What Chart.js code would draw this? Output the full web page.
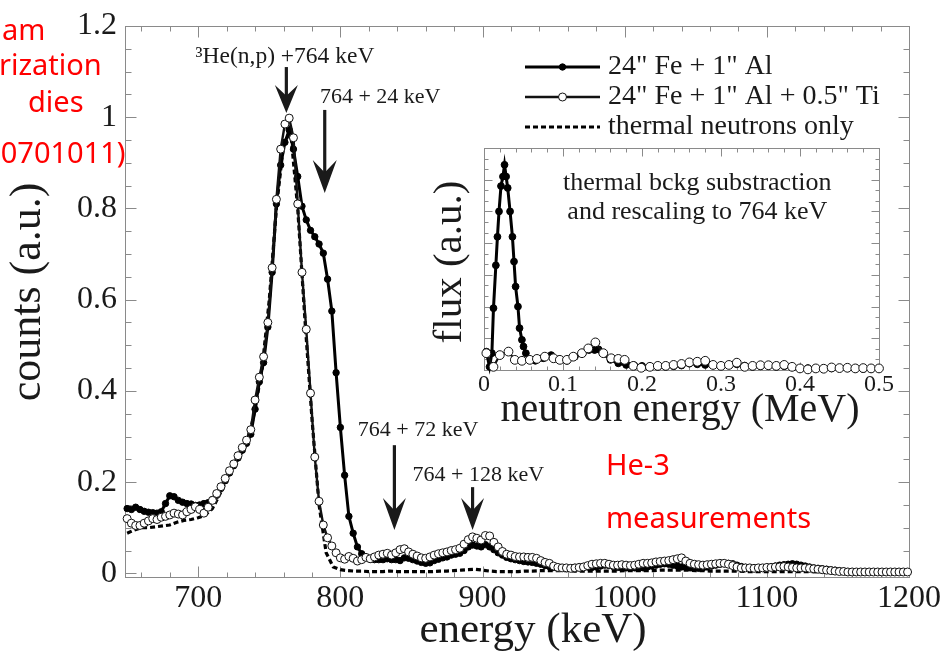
<!DOCTYPE html>
<html><head><meta charset="utf-8">
<script src="https://cdn.jsdelivr.net/npm/chart.js@4.4.0/dist/chart.umd.min.js"></script>
<style>
html,body{margin:0;padding:0;background:#fff;overflow:hidden;}
#wrap{position:relative;width:947px;height:652px;overflow:hidden;}
#main{position:absolute;left:0;top:0;}
#inset{position:absolute;left:420px;top:135px;}
.red{position:absolute;color:#ff0000;font-family:'Noto Sans',sans-serif;font-size:29px;line-height:1;white-space:nowrap;}
</style></head>
<body><div id="wrap">
<canvas id="main" width="947" height="652"></canvas>
<canvas id="inset" width="480" height="300"></canvas>
<div class="red" style="left:2px;top:14px">am</div>
<div class="red" style="left:-1px;top:49px">rization</div>
<div class="red" style="left:28px;top:86px">dies</div>
<div class="red" style="left:-8px;top:137px">(0701011)</div>
<div class="red" style="left:606px;top:449px">He-3</div>
<div class="red" style="left:606px;top:502px">measurements</div>
</div>
<script>
// ---- main chart data ----
const energies = [650,653,656,659,662,665,668,671,674,677,
680,683,686,689,692,695,698,701,704,707,
710,713,716,719,722,725,728,731,734,737,
740,743,746,749,752,755,758,761,764,767,
770,773,776,779,782,785,788,791,794,797,
800,803,806,809,812,815,818,821,824,827,
830,833,836,839,842,845,848,851,854,857,
860,863,866,869,872,875,878,881,884,887,
890,893,896,899,902,905,908,911,914,917,
920,923,926,929,932,935,938,941,944,947,
950,953,956,959,962,965,968,971,974,977,
980,983,986,989,992,995,998,1001,1004,1007,
1010,1013,1016,1019,1022,1025,1028,1031,1034,1037,
1040,1043,1046,1049,1052,1055,1058,1061,1064,1067,
1070,1073,1076,1079,1082,1085,1088,1091,1094,1097,
1100,1103,1106,1109,1112,1115,1118,1121,1124,1127,
1130,1133,1136,1139,1142,1145,1148,1151,1154,1157,
1160,1163,1166,1169,1172,1175,1178,1181,1184,1187,
1190,1193,1196,1199];
const countsFeAl = [0.142,0.140,0.145,0.140,0.136,0.134,0.133,0.132,0.135,0.153,
0.170,0.168,0.160,0.156,0.153,0.152,0.149,0.150,0.153,0.155,
0.162,0.171,0.186,0.203,0.220,0.236,0.253,0.270,0.285,0.305,
0.360,0.420,0.462,0.540,0.660,0.810,0.895,0.945,0.972,0.930,
0.870,0.805,0.775,0.752,0.738,0.722,0.702,0.645,0.575,0.440,
0.320,0.215,0.125,0.088,0.058,0.043,0.035,0.031,0.030,0.030,
0.030,0.032,0.030,0.030,0.028,0.034,0.033,0.030,0.027,0.024,
0.022,0.023,0.028,0.031,0.034,0.036,0.040,0.042,0.044,0.050,
0.058,0.062,0.060,0.058,0.063,0.058,0.052,0.045,0.040,0.035,
0.032,0.030,0.028,0.026,0.025,0.024,0.022,0.020,0.017,0.015,
0.013,0.012,0.012,0.011,0.012,0.013,0.014,0.015,0.014,0.013,
0.014,0.016,0.018,0.017,0.015,0.013,0.012,0.012,0.013,0.012,
0.011,0.012,0.014,0.016,0.018,0.020,0.021,0.020,0.018,0.016,
0.014,0.013,0.012,0.012,0.011,0.012,0.014,0.016,0.018,0.020,
0.021,0.022,0.021,0.018,0.015,0.013,0.012,0.011,0.011,0.012,
0.013,0.014,0.016,0.018,0.019,0.020,0.021,0.020,0.018,0.016,
0.014,0.012,0.011,0.010,0.009,0.008,0.007,0.006,0.005,0.004,
0.004,0.003,0.003,0.003,0.003,0.003,0.003,0.003,0.003,0.003,
0.003,0.003,0.003,0.003];
const countsFeAlTi = [0.120,0.110,0.105,0.105,0.110,0.115,0.120,0.118,0.123,0.125,
0.128,0.132,0.130,0.128,0.135,0.140,0.146,0.140,0.132,0.145,
0.160,0.175,0.190,0.208,0.225,0.240,0.258,0.276,0.292,0.315,
0.380,0.430,0.475,0.550,0.670,0.820,0.930,0.985,0.998,0.955,
0.810,0.660,0.535,0.395,0.255,0.158,0.106,0.078,0.060,0.045,
0.034,0.031,0.037,0.033,0.027,0.030,0.035,0.032,0.036,0.040,
0.042,0.044,0.040,0.045,0.052,0.054,0.047,0.042,0.038,0.034,
0.033,0.036,0.040,0.043,0.045,0.047,0.050,0.052,0.055,0.064,
0.074,0.080,0.077,0.073,0.083,0.082,0.068,0.058,0.048,0.042,
0.040,0.037,0.036,0.036,0.035,0.035,0.033,0.028,0.024,0.022,
0.016,0.013,0.012,0.012,0.011,0.012,0.013,0.014,0.017,0.020,
0.021,0.022,0.022,0.020,0.018,0.018,0.019,0.018,0.017,0.018,
0.020,0.022,0.022,0.023,0.025,0.026,0.027,0.028,0.030,0.032,
0.034,0.027,0.022,0.020,0.019,0.018,0.019,0.020,0.021,0.022,
0.022,0.020,0.017,0.014,0.012,0.012,0.012,0.011,0.012,0.012,
0.013,0.013,0.014,0.014,0.015,0.014,0.013,0.012,0.012,0.012,
0.011,0.010,0.009,0.008,0.007,0.006,0.005,0.004,0.004,0.003,
0.003,0.003,0.003,0.003,0.003,0.003,0.003,0.003,0.003,0.003,
0.003,0.003,0.003,0.003];
const thermalEnergies = [650,655,660,665,670,675,680,685,690,695,
700,705,710,715,720,725,730,735,740,745,
750,755,760,765,770,775,780,785,790,795,
800,805,810,815,820,825,830,835,840,845,
850,855,860,865,870,875,880,885,890,895,
900,905,910,915,920,925,930,935,940,945,
950,955,960,965,970,975,980,985,990,995,
1000,1005,1010,1015,1020,1025,1030,1035,1040,1045,
1050,1055,1060,1065,1070,1075,1080,1085,1090,1095,
1100,1105,1110,1115,1120,1125,1130,1135,1140,1145,
1150,1155,1160,1165,1170,1175,1180,1185,1190,1195,
1200];
const countsThermal = [0.088,0.095,0.100,0.100,0.102,0.104,0.106,0.112,0.116,0.118,
0.122,0.128,0.142,0.172,0.205,0.235,0.262,0.288,0.360,0.450,
0.600,0.800,0.940,0.970,0.800,0.560,0.340,0.150,0.045,0.014,
0.008,0.006,0.005,0.005,0.004,0.004,0.004,0.005,0.004,0.004,
0.004,0.004,0.004,0.004,0.005,0.005,0.006,0.007,0.008,0.009,
0.007,0.005,0.004,0.004,0.004,0.004,0.005,0.005,0.006,0.006,
0.006,0.006,0.006,0.005,0.005,0.005,0.005,0.005,0.005,0.005,
0.006,0.006,0.006,0.006,0.006,0.007,0.007,0.007,0.007,0.007,
0.006,0.006,0.005,0.005,0.005,0.005,0.005,0.004,0.004,0.004,
0.004,0.004,0.004,0.004,0.004,0.004,0.004,0.003,0.003,0.003,
0.003,0.003,0.003,0.003,0.003,0.003,0.003,0.003,0.003,0.003,
0.003];
const xTickValues = [700,800,900,1000,1100,1200];
const yTickValues = [0,0.2,0.4,0.6,0.8,1,1.2];

// ---- inset data ----
const insetEnergyFeAl = [0.003,0.007,0.010,0.012,0.015,0.017,0.019,0.0215,0.024,0.026,
0.028,0.030,0.033,0.036,0.038,0.040,0.043,0.045,0.048,0.050,
0.053,0.058,0.065,0.075,0.085,0.095,0.105,0.115,0.125,0.133,
0.140,0.145,0.150,0.160,0.170,0.180,0.190,0.200,0.210,0.220,
0.230,0.240,0.250,0.260,0.270,0.280,0.290,0.300,0.310,0.320,
0.330,0.340,0.350,0.360,0.370,0.380,0.390,0.400,0.410,0.420,
0.430,0.440,0.450,0.460,0.470,0.480,0.490,0.500];
const insetFluxFeAl = [0.58,0.10,0.53,1.95,3.30,4.20,5.00,5.80,6.10,6.47,
6.10,5.74,5.00,4.20,3.42,2.63,2.00,1.32,0.95,0.74,
0.53,0.32,0.29,0.37,0.47,0.34,0.29,0.42,0.53,0.63,
0.63,0.65,0.53,0.32,0.21,0.16,0.15,0.13,0.12,0.10,
0.10,0.12,0.14,0.20,0.18,0.16,0.14,0.12,0.15,0.18,
0.14,0.10,0.12,0.13,0.10,0.12,0.08,0.05,0.06,0.05,
0.04,0.05,0.06,0.05,0.04,0.03,0.03,0.05];
const insetEnergyFeAlTi = [0.003,0.012,0.020,0.031,0.039,0.048,0.058,0.067,0.077,0.088,
0.096,0.105,0.113,0.124,0.132,0.141,0.151,0.161,0.170,0.178,
0.189,0.199,0.210,0.220,0.230,0.240,0.250,0.260,0.270,0.280,
0.290,0.300,0.310,0.320,0.330,0.340,0.350,0.360,0.370,0.380,
0.390,0.400,0.410,0.420,0.430,0.440,0.450,0.460,0.470,0.480,
0.490,0.500];
const insetFluxFeAlTi = [0.53,0.10,0.47,0.58,0.32,0.29,0.32,0.35,0.42,0.37,
0.32,0.32,0.42,0.53,0.68,0.87,0.53,0.37,0.35,0.32,
0.13,0.07,0.10,0.13,0.13,0.16,0.19,0.24,0.26,0.29,
0.16,0.13,0.16,0.23,0.10,0.13,0.15,0.15,0.13,0.16,
0.10,0.05,0.02,0.05,0.04,0.08,0.06,0.07,0.05,0.06,
0.05,0.05];
const insetXTickValues = [0,0.1,0.2,0.3,0.4,0.5];

// ---- helpers ----
const SERIF = "'Liberation Serif', 'DejaVu Serif', serif";
const INK = '#1a1a1a';
const pts = (xs, ys) => xs.map((x, i) => ({x: x, y: ys[i]}));
const fmt = v => String(Math.round(v * 10) / 10);

const frame = {
  id: 'frame',
  beforeDraw(chart, args, o) {
    const {ctx, chartArea: a} = chart;
    ctx.save();
    if (o.pageBg) { ctx.fillStyle = o.pageBg; ctx.fillRect(0, 0, chart.width, chart.height); }
    if (o.areaBg) { ctx.fillStyle = o.areaBg; ctx.fillRect(a.left, a.top, a.right - a.left, a.bottom - a.top); }
    ctx.restore();
  },
  beforeDatasetsDraw(chart, args, o) {
    const {ctx, chartArea: a, scales} = chart;
    ctx.save();
    ctx.strokeStyle = o.color; ctx.lineWidth = 1;
    const L = Math.round(a.left) + 0.5, T = Math.round(a.top) + 0.5;
    const R = Math.round(a.right) + 0.5, B = Math.round(a.bottom) + 0.5;
    ctx.strokeRect(L, T, R - L, B - T);
    const draw = (scale, t, horiz) => {
      const n = Math.round((t.to - t.from) / t.minor);
      for (let i = 0; i <= n; i++) {
        const v = t.from + i * t.minor;
        const r = v / t.major;
        const major = Math.abs(r - Math.round(r)) < 1e-6;
        const len = major ? t.majorLen : t.minorLen;
        const p = Math.round(scale.getPixelForValue(v)) + 0.5;
        ctx.beginPath();
        if (horiz) {
          ctx.moveTo(p, B); ctx.lineTo(p, B - len);
          ctx.moveTo(p, T); ctx.lineTo(p, T + len);
        } else {
          ctx.moveTo(L, p); ctx.lineTo(L + len, p);
          ctx.moveTo(R, p); ctx.lineTo(R - len, p);
        }
        ctx.stroke();
      }
    };
    draw(scales.x, o.x, true);
    draw(scales.y, o.y, false);
    ctx.restore();
  },
  afterDraw(chart, args, o) {
    const {ctx, scales: {x, y}} = chart;
    ctx.save();
    ctx.fillStyle = INK; ctx.strokeStyle = INK;
    (o.arrows || []).forEach(a => {
      const px = x.getPixelForValue(a.x);
      const y0 = y.getPixelForValue(a.from), y1 = y.getPixelForValue(a.tip);
      ctx.lineWidth = 3.2;
      ctx.beginPath(); ctx.moveTo(px, y0); ctx.lineTo(px, y1 - a.h * 0.5); ctx.stroke();
      ctx.beginPath();
      ctx.moveTo(px, y1);
      ctx.lineTo(px - a.w / 2, y1 - a.h);
      ctx.lineTo(px, y1 - a.h * 0.62);
      ctx.lineTo(px + a.w / 2, y1 - a.h);
      ctx.closePath(); ctx.fill();
    });
    (o.labels || []).forEach(l => {
      ctx.font = l.size + 'px ' + SERIF;
      ctx.textAlign = 'center'; ctx.textBaseline = 'middle';
      ctx.fillText(l.text, x.getPixelForValue(l.x), y.getPixelForValue(l.y));
    });
    (o.titles || []).forEach(t => {
      ctx.save();
      ctx.font = t.size + 'px ' + SERIF;
      ctx.textAlign = 'center'; ctx.textBaseline = 'middle';
      ctx.translate(t.cx, t.cy);
      if (t.rot) ctx.rotate(t.rot);
      ctx.fillText(t.text, 0, 0);
      ctx.restore();
    });
    if (o.legend) {
      const lg = o.legend;
      lg.order.forEach((di, k) => {
        const ds = chart.data.datasets[di];
        const yy = lg.rows[k];
        ctx.save();
        ctx.strokeStyle = ds.borderColor; ctx.lineWidth = ds.borderWidth;
        ctx.setLineDash(ds.borderDash || []);
        ctx.beginPath(); ctx.moveTo(lg.x0, yy); ctx.lineTo(lg.x1, yy); ctx.stroke();
        ctx.setLineDash([]);
        if (ds.pointRadius > 0) {
          ctx.beginPath(); ctx.arc((lg.x0 + lg.x1) / 2, yy, ds.pointRadius, 0, Math.PI * 2);
          ctx.fillStyle = ds.pointBackgroundColor; ctx.fill();
          ctx.lineWidth = ds.pointBorderWidth; ctx.strokeStyle = ds.pointBorderColor; ctx.stroke();
        }
        ctx.fillStyle = INK;
        ctx.font = lg.size + 'px ' + SERIF;
        ctx.textAlign = 'left'; ctx.textBaseline = 'middle';
        ctx.fillText(ds.label, lg.textX, yy);
        ctx.restore();
      });
    }
    ctx.restore();
  }
};

const tickFont = (s) => ({family: SERIF, size: s, lineHeight: 1});

// ---- main chart ----
new Chart(document.getElementById('main'), {
  type: 'line',
  data: {
    datasets: [
      { label: '24" Fe + 1" Al + 0.5" Ti', data: pts(energies, countsFeAlTi),
        borderColor: '#111', borderWidth: 2.4, pointRadius: 4,
        pointBackgroundColor: '#fff', pointBorderColor: '#111', pointBorderWidth: 1,
        tension: 0, clip: 8 },
      { label: '24" Fe + 1" Al', data: pts(energies, countsFeAl),
        borderColor: '#000', borderWidth: 3, pointRadius: 3.2,
        pointBackgroundColor: '#000', pointBorderColor: '#000', pointBorderWidth: 1,
        tension: 0, clip: 8 },
      { label: 'thermal neutrons only', data: pts(thermalEnergies, countsThermal),
        borderColor: '#000', borderWidth: 3.2, borderDash: [5, 3], pointRadius: 0,
        tension: 0, clip: 8 }
    ]
  },
  options: {
    responsive: false, animation: false, devicePixelRatio: 1,
    layout: {padding: {left: 0, top: 26, right: 38, bottom: 0}},
    plugins: {
      legend: {display: false}, tooltip: {enabled: false},
      frame: {
        pageBg: '#fff', color: '#8a8a8a',
        x: {from: 660, to: 1200, minor: 20, major: 100, majorLen: 11, minorLen: 5},
        y: {from: 0, to: 1.2, minor: 0.05, major: 0.2, majorLen: 11, minorLen: 6},
        arrows: [
          {x: 762, from: 1.110, tip: 1.009, h: 28, w: 23},
          {x: 789, from: 1.016, tip: 0.834, h: 33, w: 24},
          {x: 838, from: 0.281, tip: 0.095, h: 32, w: 23},
          {x: 893, from: 0.189, tip: 0.095, h: 32, w: 23}
        ],
        labels: [
          {text: '³He(n,p) +764 keV', x: 761, y: 1.132, size: 23.5},
          {text: '764 + 24 keV', x: 828, y: 1.044, size: 22},
          {text: '764 + 72 keV', x: 854.7, y: 0.314, size: 22},
          {text: '764 + 128 keV', x: 897, y: 0.216, size: 22}
        ],
        titles: [
          {text: 'energy (keV)', cx: 533, cy: 631, size: 43},
          {text: 'counts (a.u.)', cx: 28, cy: 292, size: 44, rot: -Math.PI / 2}
        ],
        legend: {order: [1, 0, 2], rows: [67, 97, 127], x0: 525, x1: 600, textX: 608, size: 28}
      }
    },
    scales: {
      x: {
        type: 'linear', min: 648.5, max: 1200,
        grid: {display: false, drawTicks: false}, border: {display: false},
        afterBuildTicks: s => { s.ticks = xTickValues.map(v => ({value: v})); },
        afterFit: s => { s.height = 75; },
        ticks: {font: tickFont(32), color: INK, padding: 6, maxRotation: 0, autoSkip: false, callback: v => fmt(v)}
      },
      y: {
        type: 'linear', min: -0.008, max: 1.2,
        grid: {display: false, drawTicks: false}, border: {display: false},
        afterBuildTicks: s => { s.ticks = yTickValues.map(v => ({value: v})); },
        afterFit: s => { s.width = 125; },
        ticks: {font: tickFont(32), color: INK, padding: 8, autoSkip: false, callback: v => fmt(v)}
      }
    }
  },
  plugins: [frame]
});

// ---- inset chart ----
new Chart(document.getElementById('inset'), {
  type: 'line',
  data: {
    datasets: [
      { label: '24" Fe + 1" Al + 0.5" Ti', data: pts(insetEnergyFeAlTi, insetFluxFeAlTi),
        borderColor: '#111', borderWidth: 2.2, pointRadius: 4.4,
        pointBackgroundColor: '#fff', pointBorderColor: '#111', pointBorderWidth: 1,
        tension: 0, clip: 8 },
      { label: '24" Fe + 1" Al', data: pts(insetEnergyFeAl, insetFluxFeAl),
        borderColor: '#000', borderWidth: 3, pointRadius: 3.4,
        pointBackgroundColor: '#000', pointBorderColor: '#000', pointBorderWidth: 1,
        tension: 0, clip: 8 }
    ]
  },
  options: {
    responsive: false, animation: false, devicePixelRatio: 1,
    layout: {padding: {left: 0, top: 13, right: 21, bottom: 0}},
    plugins: {
      legend: {display: false}, tooltip: {enabled: false},
      frame: {
        areaBg: '#fff', color: '#8a8a8a',
        x: {from: 0, to: 0.5, minor: 0.02, major: 0.1, majorLen: 8, minorLen: 4},
        y: {from: 0, to: 7, minor: 1 / 3, major: 1, majorLen: 8, minorLen: 4},
        labels: [
          {text: 'thermal bckg substraction', x: 0.27, y: 5.9, size: 26},
          {text: 'and rescaling to 764 keV', x: 0.27, y: 4.98, size: 26}
        ],
        titles: [
          {text: 'neutron energy (MeV)', cx: 260, cy: 275, size: 40},
          {text: 'flux (a.u.)', cx: 30, cy: 127, size: 41, rot: -Math.PI / 2}
        ]
      }
    },
    scales: {
      x: {
        type: 'linear', min: 0, max: 0.5,
        grid: {display: false, drawTicks: false}, border: {display: false},
        afterBuildTicks: s => { s.ticks = insetXTickValues.map(v => ({value: v})); },
        afterFit: s => { s.height = 65; },
        ticks: {font: tickFont(24), color: INK, padding: 3, maxRotation: 0, autoSkip: false, callback: v => fmt(v)}
      },
      y: {
        type: 'linear', min: 0, max: 7,
        grid: {display: false, drawTicks: false}, border: {display: false},
        afterFit: s => { s.width = 64; },
        ticks: {display: false}
      }
    }
  },
  plugins: [frame]
});
</script>
</body></html>
